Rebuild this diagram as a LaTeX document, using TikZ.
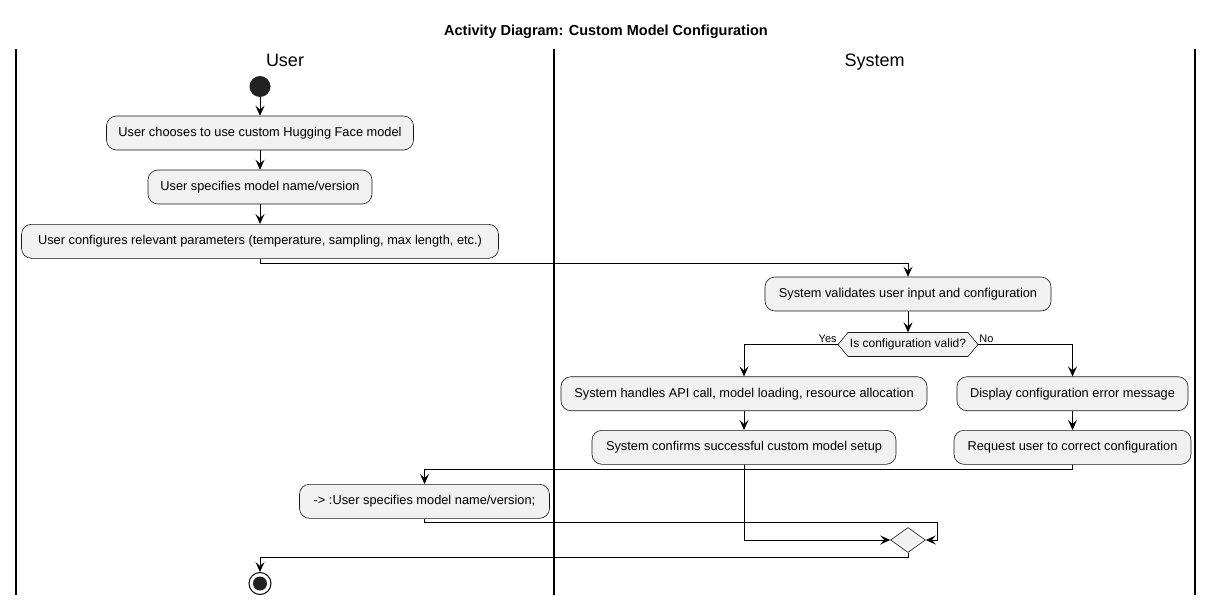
\documentclass[tikz,border=0pt]{standalone}
\usepackage{fontspec}
\setmainfont{Liberation Sans}
\usetikzlibrary{arrows.meta,shapes.geometric,calc}
\definecolor{boxfill}{HTML}{F1F1F1}
\definecolor{boxline}{HTML}{181818}
\definecolor{startfill}{HTML}{222222}
\begin{document}
\begin{tikzpicture}[x=1pt,y=-1pt,
  act/.style={draw=boxline,fill=boxfill,rounded corners=10pt,minimum height=34pt,inner sep=0pt,font=\fontsize{12.8}{14}\selectfont,line width=0.6pt},
  flow/.style={draw=black,line width=0.9pt,-{Stealth[length=10pt,width=9pt,inset=4pt]}},
  lane/.style={draw=black,line width=1.3pt},
  lbl/.style={font=\fontsize{11}{12}\selectfont,inner sep=0pt},
  hex/.style={draw=boxline,fill=boxfill,line width=0.6pt},
  hdr/.style={font=\fontsize{18}{20}\selectfont,anchor=base,inner sep=0pt}
]
\useasboundingbox (0,0) rectangle (1213,605);
\fill[white] (0,0) rectangle (1213,605);

% title and lanes
\node[font=\bfseries\fontsize{14.5}{16}\selectfont,anchor=base,inner sep=0pt] (title) at (606,35) {Activity Diagram: Custom Model Configuration};
\node[hdr] (hu) at (285,66.5) {User};
\node[hdr] (hs) at (874.5,66.5) {System};
\draw[lane] (16,49) -- (16,595);
\draw[lane] (554,49) -- (554,595);
\draw[lane] (1195,49) -- (1195,595);

% start
\node[circle,fill=startfill,minimum size=21pt,inner sep=0pt] (s) at (260,86.5) {};

% activities
\node[act,minimum width=307pt] (b1) at (260,133) {User chooses to use custom Hugging Face model};
\node[act,minimum width=224pt] (b2) at (260,187) {User specifies model name/version};
\node[act,minimum width=477pt] (b3) at (260,241.3) {User configures relevant parameters (temperature, sampling, max length, etc.)};
\node[act,minimum width=286pt] (b4) at (908,294) {System validates user input and configuration};

% decision
\path[hex] (838,344.5) -- (848,332.5) -- (968,332.5) -- (978,344.5) -- (968,356.5) -- (848,356.5) -- cycle;
\node[minimum width=140pt,minimum height=24pt,inner sep=0pt,font=\fontsize{12}{13}\selectfont] (d) at (908,344.5) {Is configuration valid?};
\node[lbl,anchor=south east] (yes) at ($(d.west)+(-1,-1.5)$) {Yes};
\node[lbl,anchor=south west] (no) at ($(d.east)+(1,-1.5)$) {No};

\node[act,minimum width=366pt] (b5) at (744,393.7) {System handles API call, model loading, resource allocation};
\node[act,minimum width=231pt] (b6) at (1072.5,393.7) {Display configuration error message};
\node[act,minimum width=304pt] (b7) at (744,447.3) {System confirms successful custom model setup};
\node[act,minimum width=237pt] (b8) at (1072.5,447.3) {Request user to correct configuration};
\node[act,minimum width=250pt] (b9) at (424.5,501.3) {-> :User specifies model name/version;};

% merge
\node[diamond,draw=boxline,fill=boxfill,line width=0.6pt,minimum width=35pt,minimum height=25pt,inner sep=0pt] (m) at (908,540) {};
\coordinate (mr) at (937,540);

% end
\node[circle,draw=black,line width=1pt,minimum size=22pt,inner sep=0pt] (e) at (260,583.5) {};
\fill[startfill] (e.center) circle (7pt);

% connectors
\draw[flow] (s) -- (b1);
\draw[flow] (b1) -- (b2);
\draw[flow] (b2) -- (b3);
\draw[flow] (b3.south) -- ++(0,5) -| (b4.north);
\draw[flow] (b4) -- (d.north);
\draw[flow] (d.west) -| (b5.north);
\draw[flow] (d.east) -| (b6.north);
\draw[flow] (b5) -- (b7);
\draw[flow] (b6) -- (b8);
\draw[flow] (b8.south) -- ++(0,5) -| (b9.north);
\draw[flow] (b7.south) |- (m.west);
\draw[flow] (b9.south) -- ++(0,3.5) -| (mr) -- (m.east);
\draw[flow] (m.south) -- ++(0,4.5) -| (e.north);
\end{tikzpicture}
\end{document}
